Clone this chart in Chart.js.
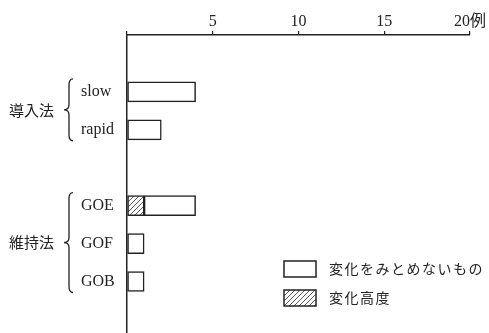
<!DOCTYPE html>
<html>
<head>
<meta charset="utf-8">
<script src="https://cdn.jsdelivr.net/npm/chart.js@4/dist/chart.umd.min.js"></script>
<style>
  body { margin: 0; background: #fff; overflow: hidden; }
  #wrap { width: 489px; height: 351px; }
</style>
</head>
<body>
<div id="wrap"><canvas id="chart" width="489" height="351"></canvas></div>
<script>
// groups of rows, top to bottom
const groupNames = ["導入法", "維持法"];
const inductionRows = ["slow", "rapid"];
const maintenanceRows = ["GOE", "GOF", "GOB"];

// cases per row (例)
const noChange = [4, 2, 3, 1, 1];   // 変化をみとめないもの
const severe = [0, 0, 1, 0, 0];     // 変化高度

const xTicks = [0, 5, 10, 15, 20];
const unit = "例";
const seriesNames = ["変化高度", "変化をみとめないもの"];

// blank slot above, between the groups and below
const labels = ["", ...inductionRows, "", ...maintenanceRows, ""];
const groups = [
  { name: groupNames[0], rows: inductionRows },
  { name: groupNames[1], rows: maintenanceRows }
];

function padRows(values) {
  const out = [null];
  inductionRows.forEach((r, i) => out.push(values[i]));
  out.push(null);
  maintenanceRows.forEach((r, i) => out.push(values[inductionRows.length + i]));
  out.push(null);
  return out.map(v => (v === 0 ? null : v));
}

function makeHatch() {
  const c = document.createElement("canvas");
  c.width = 5; c.height = 5;
  const g = c.getContext("2d");
  g.fillStyle = "#fff";
  g.fillRect(0, 0, 5, 5);
  g.strokeStyle = "#555";
  g.lineWidth = 1;
  g.beginPath();
  g.moveTo(0, 5); g.lineTo(5, 0);
  g.moveTo(-1, 1); g.lineTo(1, -1);
  g.moveTo(4, 6); g.lineTo(6, 4);
  g.stroke();
  return g.createPattern(c, "repeat");
}

const ink = "#222";
const hatch = makeHatch();

const groupBraces = {
  id: "groupBraces",
  afterDraw(chart) {
    const { ctx } = chart;
    const y = chart.scales.y;
    ctx.save();
    ctx.strokeStyle = ink;
    ctx.fillStyle = ink;
    ctx.lineWidth = 1.3;
    ctx.font = '15px "Noto Sans CJK JP"';
    ctx.textAlign = "right";
    ctx.textBaseline = "middle";
    groups.forEach(g => {
      const first = labels.indexOf(g.rows[0]);
      const last = labels.indexOf(g.rows[g.rows.length - 1]);
      const top = y.getPixelForValue(first) - 13;
      const bottom = y.getPixelForValue(last) + 11;
      const mid = (top + bottom) / 2;
      const x = 69;
      ctx.beginPath();
      ctx.moveTo(x + 4, top);
      ctx.quadraticCurveTo(x, top, x, top + 6);
      ctx.lineTo(x, mid - 5);
      ctx.quadraticCurveTo(x, mid, x - 5, mid);
      ctx.quadraticCurveTo(x, mid, x, mid + 5);
      ctx.lineTo(x, bottom - 6);
      ctx.quadraticCurveTo(x, bottom, x + 4, bottom);
      ctx.stroke();
      ctx.fillText(g.name, 54, mid);
    });

    // legend, bottom right
    const items = chart.data.datasets.slice().reverse();
    items.forEach((ds, i) => {
      const by = 261 + i * 29;
      ctx.fillStyle = ds.backgroundColor;
      ctx.fillRect(284, by, 32, 16);
      ctx.strokeStyle = ink;
      ctx.lineWidth = 1.5;
      ctx.strokeRect(284, by, 32, 16);
      ctx.fillStyle = ink;
      ctx.textAlign = "left";
      ctx.font = '14px "Noto Sans CJK JP"';
      ctx.letterSpacing = "1.5px";
      ctx.fillText(ds.label, 329, by + 8);
      ctx.letterSpacing = "0px";
    });
    ctx.restore();
  }
};

new Chart(document.getElementById("chart"), {
  type: "bar",
  data: {
    labels,
    datasets: [
      {
        label: seriesNames[0],
        data: padRows(severe),
        backgroundColor: hatch,
        borderColor: ink,
        borderWidth: 1.5,
        borderSkipped: false,
        barThickness: 20
      },
      {
        label: seriesNames[1],
        data: padRows(noChange),
        backgroundColor: "#fff",
        borderColor: ink,
        borderWidth: 1.5,
        borderSkipped: false,
        barThickness: 20
      }
    ]
  },
  options: {
    indexAxis: "y",
    responsive: false,
    animation: false,
    layout: { padding: { left: 81, right: 19, top: 0, bottom: 0 } },
    plugins: { legend: { display: false }, tooltip: { enabled: false } },
    scales: {
      x: {
        position: "top",
        stacked: true,
        min: xTicks[0],
        max: xTicks[xTicks.length - 1],
        afterBuildTicks: s => { s.ticks = xTicks.map(v => ({ value: v })); },
        afterFit: s => { s.height = 35; },
        grid: { drawOnChartArea: false, tickLength: 4, color: ink, lineWidth: 1.2 },
        border: { color: ink, width: 1.5 },
        ticks: {
          color: ink,
          padding: 0,
          font: { family: '"Liberation Serif", "Noto Sans CJK JP"', size: 16 },
          callback: v => (v === 0 ? "" : v === xTicks[xTicks.length - 1] ? v + unit : v)
        }
      },
      y: {
        stacked: true,
        afterFit: s => { s.width = 46; },
        grid: { display: false },
        border: { color: ink, width: 1.5 },
        ticks: {
          color: ink,
          crossAlign: "far",
          font: { family: '"Liberation Serif", "DejaVu Serif"', size: 16 }
        }
      }
    }
  },
  plugins: [groupBraces]
});
</script>
</body>
</html>
